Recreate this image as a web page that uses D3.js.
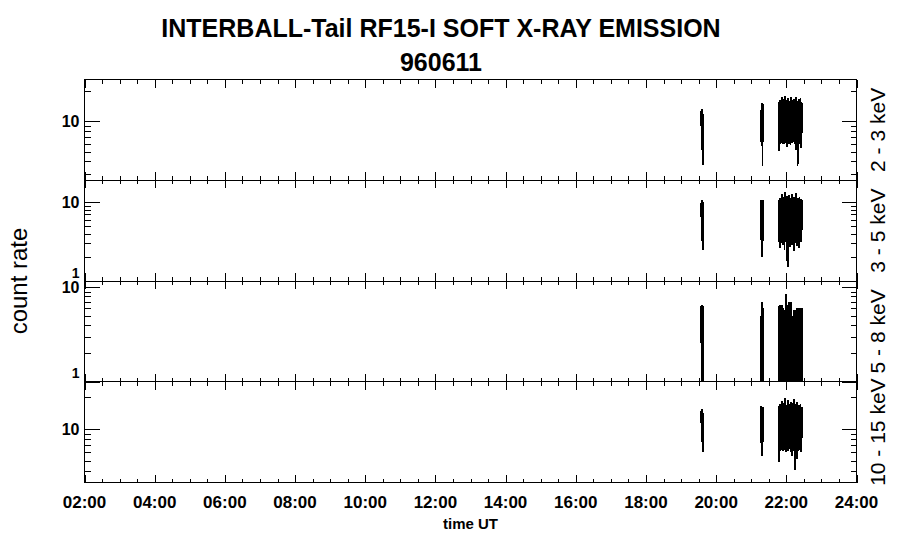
<!DOCTYPE html>
<html>
<head>
<meta charset="utf-8">
<script src="https://cdn.jsdelivr.net/npm/d3@7"></script>
<style>
  body { margin: 0; background: #fff; }
  svg { display: block; font-family: "Liberation Sans", Arial, sans-serif; }
</style>
</head>
<body>
<svg id="chart" width="900" height="548"></svg>
<script>
const title = "INTERBALL-Tail RF15-I SOFT X-RAY EMISSION";
const dateLabel = "960611";
const bandLabels = ["2 - 3 keV", "3 - 5 keV", "5 - 8 keV", "10 - 15 keV"];
const timeLabels = ["02:00", "04:00", "06:00", "08:00", "10:00", "12:00",
  "14:00", "16:00", "18:00", "20:00", "22:00", "24:00"];

// y ranges of each panel (count rate, log axis)
const yRanges = [[2.59, 26.2], [1, 19], [1, 11.65], [3.11, 28.1]];

// three bursts of data, hours UT of first sample, one sample every 40 s
const burstStarts = [19.575, 21.265, 21.79];
const sampleStep = 40 / 3600;

// count rates, one array per burst
const rate2to3 = [
  [12.8, 5.2, 13.4, 5.4, 11.9, 3.7, 9.6],
  [12.5, 6.3, 13.1, 6.0, 15.3, 3.6, 14.8, 6.2, 15.0],
  [5.1, 15.8, 6.0, 16.2, 6.3, 15.1, 6.1, 17.5, 6.4, 15.6,
   5.9, 16.8, 6.2, 15.3, 6.0, 17.8, 6.5, 15.9, 6.1, 16.4,
   5.6, 15.2, 6.2, 17.1, 6.3, 15.7, 6.0, 16.0, 6.4, 15.4,
   5.8, 17.6, 6.2, 15.8, 6.1, 16.3, 6.3, 15.5, 6.5, 16.9,
   6.2, 15.6, 6.0, 17.4, 5.2, 15.9, 6.3, 16.1, 3.6, 15.4,
   6.1, 16.6, 5.9, 15.3, 6.2, 17.2, 5.4, 15.8, 6.0, 15.1]
];
const rate3to5 = [
  [9.8, 3.2, 10.8, 3.0, 10.2, 2.5, 9.5],
  [10.1, 3.3, 10.7, 2.0, 10.4, 3.1, 10.6, 3.2, 10.3],
  [3.1, 10.6, 2.6, 11.2, 3.3, 10.9, 3.0, 12.8, 3.2, 10.7,
   2.9, 11.5, 3.4, 10.8, 2.5, 13.4, 3.1, 11.0, 3.3, 10.6,
   1.8, 11.9, 3.0, 10.9, 1.5, 12.2, 3.2, 10.8, 2.7, 11.3,
   3.1, 10.7, 3.4, 12.6, 2.9, 11.0, 3.2, 10.9, 2.4, 11.6,
   3.3, 10.8, 3.0, 12.9, 3.1, 11.1, 2.8, 10.7, 3.2, 11.4,
   3.0, 10.9, 2.6, 11.8, 3.3, 10.8, 3.1, 11.0, 3.2, 10.6]
];
const rate5to8 = [
  [6.4, 0.5, 6.45, 0.5, 6.4, 0.5, 6.4],
  [4.9, 0.5, 5.0, 0.5, 6.9, 0.5, 6.0, 0.5, 6.0],
  [0.5, 6.4, 0.5, 6.5, 0.5, 6.4, 0.5, 6.5, 0.5, 6.1,
   0.5, 6.0, 0.5, 5.7, 0.5, 5.8, 0.5, 5.6, 0.5, 8.4,
   0.5, 6.5, 0.5, 6.4, 0.5, 7.0, 0.5, 6.9, 0.5, 7.0,
   0.5, 6.9, 0.5, 5.0, 0.5, 4.9, 0.5, 5.0, 0.5, 5.7,
   0.5, 5.8, 0.5, 5.7, 0.5, 5.6, 0.5, 6.0, 0.5, 6.1,
   0.5, 6.0, 0.5, 6.0, 0.5, 6.0, 0.5, 6.1, 0.5, 6.0]
];
const rate10to15 = [
  [14.8, 7.5, 15.6, 7.3, 14.2, 6.1, 13.0],
  [15.2, 7.4, 16.7, 5.5, 15.9, 7.3, 16.2, 7.6, 15.5],
  [4.9, 16.5, 6.2, 17.2, 6.4, 15.8, 6.3, 18.4, 6.5, 16.1,
   6.2, 17.6, 6.6, 15.9, 6.3, 19.9, 6.4, 16.4, 6.1, 17.0,
   6.5, 15.7, 6.3, 18.9, 6.2, 16.3, 6.6, 17.3, 6.4, 15.9,
   6.0, 18.1, 6.3, 16.2, 5.6, 17.5, 6.4, 16.0, 6.2, 19.2,
   6.5, 15.8, 4.1, 17.1, 6.3, 16.6, 5.2, 18.0, 6.4, 15.6,
   6.2, 16.9, 6.5, 16.1, 6.3, 17.4, 6.0, 15.9, 6.4, 16.3]
];
const panelRates = [rate2to3, rate3to5, rate5to8, rate10to15];

const margin = { top: 79.5, left: 84.5 },
  width = 772,
  panelH = 100.75;

const svg = d3.select("#chart");

svg.append("text")
  .attr("x", 441).attr("y", 37)
  .attr("text-anchor", "middle")
  .style("font-size", "25px").style("font-weight", "bold")
  .text(title);

svg.append("text")
  .attr("x", 441).attr("y", 71)
  .attr("text-anchor", "middle")
  .style("font-size", "25px").style("font-weight", "bold")
  .text(dateLabel);

svg.append("text")
  .attr("transform", `translate(27,${margin.top + panelH * 2}) rotate(-90)`)
  .attr("text-anchor", "middle")
  .style("font-size", "24px")
  .text("count rate");

const x = d3.scaleLinear().domain([2, 24]).range([0, width]);

const xMajor = d3.range(2, 24.01, 2);
const xMinor = d3.range(2, 24.01, 0.5).filter(h => h % 2 !== 0);

function inward(g, axisFn, scale, values, size) {
  g.call(axisFn(scale).tickValues(values).tickSize(size).tickSizeOuter(0).tickFormat(""))
    .call(s => s.select(".domain").remove())
    .selectAll("line").attr("stroke", "#000");
}

panelRates.forEach((rates, p) => {
  const top = margin.top + p * panelH;
  const g = svg.append("g").attr("transform", `translate(${margin.left},${top})`);

  const y = d3.scaleLog().domain(yRanges[p]).range([panelH, 0]);
  const yTicks = y.ticks();
  const yMajor = yTicks.filter(v => Math.abs(Math.log10(v) - Math.round(Math.log10(v))) < 1e-9);
  const yMinor = yTicks.filter(v => !yMajor.includes(v));

  g.append("clipPath").attr("id", "clip" + p)
    .append("rect").attr("width", width).attr("height", panelH);

  const line = d3.line()
    .x(d => x(d.t))
    .y(d => y(d.v));

  const plot = g.append("g").attr("clip-path", `url(#clip${p})`);
  rates.forEach((vals, b) => {
    const pts = vals.map((v, i) => ({ t: burstStarts[b] + i * sampleStep, v }));
    plot.append("path")
      .datum(pts)
      .attr("fill", "none")
      .attr("stroke", "#000")
      .attr("stroke-width", 1.7)
      .attr("shape-rendering", "crispEdges")
      .attr("d", line);
  });

  g.append("rect")
    .attr("width", width).attr("height", panelH)
    .attr("fill", "none").attr("stroke", "#000")
    .attr("shape-rendering", "crispEdges");

  const axes = g.append("g").attr("shape-rendering", "crispEdges");
  inward(axes.append("g"), d3.axisLeft, y, yMajor, -15);
  inward(axes.append("g"), d3.axisLeft, y, yMinor, -6);
  inward(axes.append("g").attr("transform", `translate(${width},0)`), d3.axisRight, y, yMajor, -15);
  inward(axes.append("g").attr("transform", `translate(${width},0)`), d3.axisRight, y, yMinor, -6);
  inward(axes.append("g"), d3.axisTop, x, xMajor, -8);
  inward(axes.append("g"), d3.axisTop, x, xMinor, -4);
  inward(axes.append("g").attr("transform", `translate(0,${panelH})`), d3.axisBottom, x, xMajor, -8);
  inward(axes.append("g").attr("transform", `translate(0,${panelH})`), d3.axisBottom, x, xMinor, -4);

  // labels at the bottom end of an axis sit just above it
  g.selectAll("text.ylab")
    .data(yMajor)
    .enter().append("text")
    .attr("class", "ylab")
    .attr("x", -5)
    .attr("y", d => y(d) > panelH - 2 ? y(d) - 3.5 : y(d) + 5.5)
    .attr("text-anchor", "end")
    .style("font-size", d => y(d) > panelH - 2 ? "14px" : "16px")
    .style("font-weight", "bold")
    .text(d => d3.format("d")(d));

  g.append("text")
    .attr("transform", `translate(${width + 28},${panelH / 2}) rotate(-90)`)
    .attr("text-anchor", "middle")
    .style("font-size", "21px")
    .text(bandLabels[p]);

  if (p === panelRates.length - 1) {
    g.selectAll("text.xlab")
      .data(xMajor)
      .enter().append("text")
      .attr("class", "xlab")
      .attr("x", d => x(d))
      .attr("y", panelH + 25)
      .attr("text-anchor", "middle")
      .style("font-size", "17px").style("font-weight", "bold")
      .text((d, i) => timeLabels[i]);

    g.append("text")
      .attr("x", width / 2)
      .attr("y", panelH + 46)
      .attr("text-anchor", "middle")
      .style("font-size", "15px").style("font-weight", "bold")
      .text("time UT");
  }
});
</script>
</body>
</html>
